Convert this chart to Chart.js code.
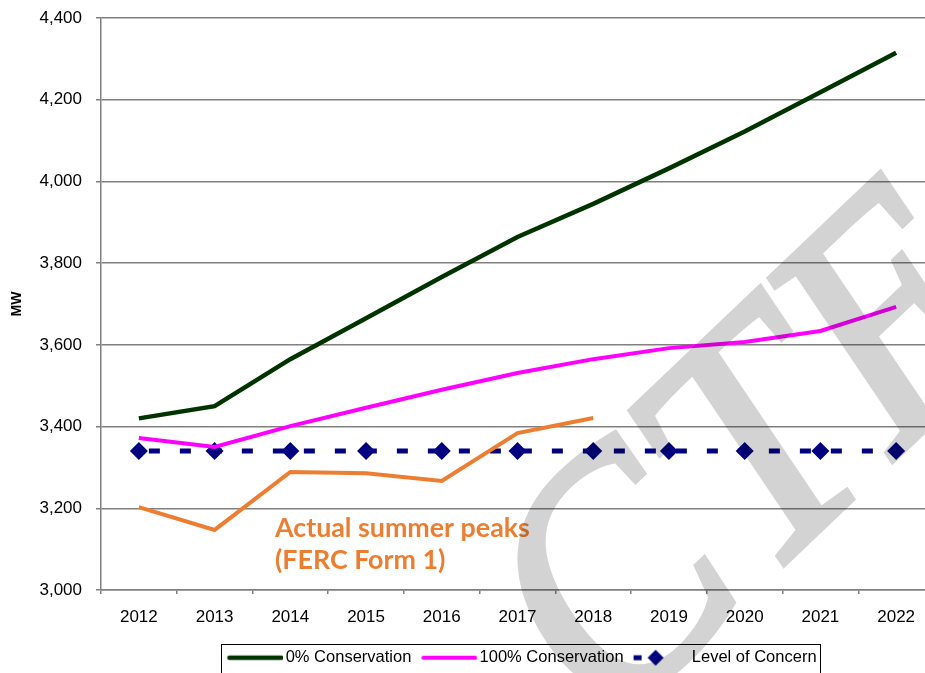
<!DOCTYPE html>
<html lang="en">
<head>
  <meta charset="UTF-8" />
  <title>Summer peak forecast</title>
  <script src="https://cdn.jsdelivr.net/npm/chart.js"></script>
  <style>
    html, body { margin: 0; padding: 0; background: #fff; overflow: hidden; }
    .wrap { position: absolute; left: 0; top: 0; width: 1045px; height: 676px; }
  </style>
</head>
<body>

<div class="wrap">
  <canvas id="peakChart"></canvas>
</div>

<script>
// data
const years = ['2012', '2013', '2014', '2015', '2016', '2017', '2018', '2019', '2020', '2021', '2022'];
const conservation0 = [3420, 3450, 3565, 3665, 3766, 3864, 3945, 4032, 4122, 4218, 4315];
const conservation100 = [3372, 3350, 3401, 3446, 3490, 3531, 3565, 3592, 3607, 3634, 3693];
const levelOfConcern = [3340, 3340, 3340, 3340, 3340, 3340, 3340, 3340, 3340, 3340, 3340];
const actualPeaks = [3203, 3147, 3289, 3286, 3267, 3384, 3421, null, null, null, null];
const yTicks = [3000, 3200, 3400, 3600, 3800, 4000, 4200, 4400];

const FONT = '"Liberation Sans", Arial, sans-serif';

// little legend samples (line / dash + diamond)
function lineIcon(color, width) {
  const c = document.createElement('canvas');
  c.width = 62; c.height = 10;
  const g = c.getContext('2d');
  g.strokeStyle = color; g.lineWidth = width; g.lineCap = 'round';
  g.beginPath(); g.moveTo(8, 5); g.lineTo(60, 5); g.stroke();
  return c;
}
function concernIcon() {
  const c = document.createElement('canvas');
  c.width = 62; c.height = 18;
  const g = c.getContext('2d');
  g.fillStyle = '#000080';
  g.fillRect(6, 6.5, 8, 5);
  g.beginPath();
  g.moveTo(28, 1); g.lineTo(36, 9); g.lineTo(28, 17); g.lineTo(20, 9);
  g.closePath(); g.fill();
  return c;
}
const legendIcons = [lineIcon('#003300', 4.5), lineIcon('#ff00ff', 4), concernIcon()];

const extras = {
  id: 'extras',
  beforeDraw(chart) {
    // legend sits centred under the (partly cut off) plot, not the canvas
    const lg = chart.legend;
    const d = 522 - (lg.left + lg.right) / 2;
    lg.left += d;
    lg.right += d;
    (lg.legendHitBoxes || []).forEach(hb => { hb.left += d; });
  },
  afterDraw(chart) {
    const ctx = chart.ctx;
    const area = chart.chartArea;

    // annotation
    ctx.save();
    ctx.fillStyle = '#ed7d31';
    let size = 24;
    ctx.font = 'bold ' + size + 'px Lato, "Open Sans", sans-serif';
    size = size * 255 / ctx.measureText('Actual summer peaks').width;
    ctx.font = 'bold ' + size.toFixed(1) + 'px Lato, "Open Sans", sans-serif';
    ctx.textAlign = 'left';
    ctx.textBaseline = 'alphabetic';
    ctx.fillText('Actual summer peaks', area.left + 174, 537);
    ctx.fillText('(FERC Form 1)', area.left + 174, 569);
    ctx.restore();

    // legend frame
    const boxes = chart.legend.legendHitBoxes;
    if (boxes && boxes.length) {
      const first = boxes[0], last = boxes[boxes.length - 1];
      const cy = first.top + first.height / 2;
      ctx.save();
      ctx.strokeStyle = '#000';
      ctx.lineWidth = 1;
      ctx.strokeRect(Math.round(first.left - 6) + 0.5, Math.round(cy - 14) + 0.5,
        Math.round(last.left + last.width - first.left + 10), 60);
      ctx.restore();
    }

    // watermark (rotated and slightly sheared, like the scanned page),
    // drawn opaque off screen then multiplied over the chart
    const wm = document.createElement('canvas');
    wm.width = chart.width; wm.height = chart.height;
    const g = wm.getContext('2d');
    g.transform(2.24, -2.129, 1.867, 2.769, 600, 738);
    g.font = '100px "Liberation Serif", "DejaVu Serif", serif';
    g.fillStyle = '#d3d3d3';
    g.strokeStyle = '#d3d3d3';
    g.lineWidth = 2.2;
    g.lineJoin = 'miter';
    g.fillText('CTE', 0, 0);
    g.strokeText('CTE', 0, 0);
    ctx.save();
    ctx.globalCompositeOperation = 'multiply';
    ctx.drawImage(wm, 0, 0, chart.width, chart.height);
    ctx.restore();
  }
};

const ctx = document.getElementById('peakChart').getContext('2d');
new Chart(ctx, {
  type: 'line',
  data: {
    labels: years,
    datasets: [
      { label: '0% Conservation', data: conservation0, borderColor: '#003300', backgroundColor: '#003300',
        borderWidth: 4.5, pointRadius: 0, tension: 0, order: 2 },
      { label: '100% Conservation', data: conservation100, borderColor: '#ff00ff', backgroundColor: '#ff00ff',
        borderWidth: 4, pointRadius: 0, tension: 0, order: 3 },
      { label: 'Level of Concern', data: levelOfConcern, borderColor: '#000080', backgroundColor: '#000080',
        borderWidth: 5, borderDash: [11, 20], borderDashOffset: -10, borderCapStyle: 'butt',
        pointStyle: 'rectRot', pointRadius: 9, pointBorderWidth: 0, tension: 0, order: 4 },
      { label: 'Actual summer peaks', data: actualPeaks, borderColor: '#ed7d31', backgroundColor: '#ed7d31',
        borderWidth: 4, pointRadius: 0, tension: 0, spanGaps: false, order: 1 }
    ]
  },
  options: {
    responsive: true,
    maintainAspectRatio: false,
    animation: false,
    layout: { padding: { top: 18, right: 111, left: 0, bottom: 0 } },
    scales: {
      x: {
        offset: true,
        grid: { display: true, offset: true, drawOnChartArea: false, drawTicks: true, tickLength: 4,
          color: '#808080', lineWidth: 1.5 },
        border: { display: true, color: '#808080', width: 1.5 },
        ticks: { color: '#000', font: { family: FONT, size: 17 }, padding: 13, maxRotation: 0 },
        afterFit(scale) {
          scale.height = (676 - scale.chart.legend.height) - 590;
        }
      },
      y: {
        min: 3000,
        max: 4400,
        afterBuildTicks(scale) {
          scale.ticks = yTicks.map(v => ({ value: v }));
        },
        grid: { color: '#808080', lineWidth: 1.5, tickLength: 5, drawTicks: true },
        border: { display: true, color: '#808080', width: 1.5 },
        ticks: {
          color: '#000', font: { family: FONT, size: 17 }, padding: 14,
          callback: v => v.toLocaleString('en-US')
        },
        title: { display: true, text: 'MW', color: '#000', font: { family: FONT, size: 14, weight: 'bold' },
          padding: { top: 9, bottom: 0 } },
        afterFit(scale) {
          scale.width = 101;
          scale.paddingTop = 0;
          scale.paddingBottom = 0;
        }
      }
    },
    plugins: {
      legend: {
        position: 'bottom',
        labels: {
          usePointStyle: true,
          pointStyleWidth: 50,
          padding: 10,
          color: '#000',
          font: { family: FONT, size: 16.5 },
          generateLabels(chart) {
            return Chart.defaults.plugins.legend.labels.generateLabels(chart)
              .filter(item => item.datasetIndex !== 3)
              .map(item => Object.assign(item, { pointStyle: legendIcons[item.datasetIndex], rotation: 0 }));
          }
        }
      },
      tooltip: { enabled: false }
    }
  },
  plugins: [extras]
});
</script>

</body>
</html>
